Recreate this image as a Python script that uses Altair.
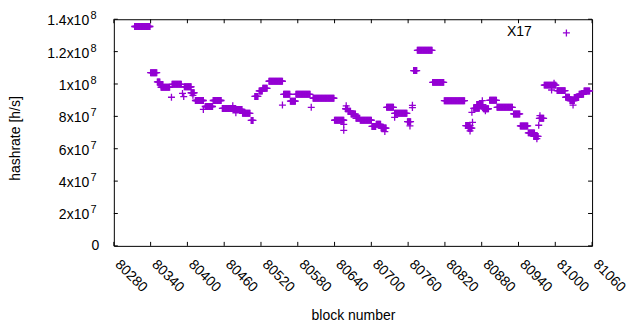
import altair as alt
import pandas as pd

# ---- data (block ranges with a constant hashrate, in millions of h/s) ----
run_start = [80314, 80340, 80351, 80356, 80357, 80375, 80395, 80406, 80413, 80429,
             80442, 80457, 80475, 80490, 80504, 80510, 80517, 80523, 80533, 80557,
             80568, 80577, 80605, 80640, 80658, 80662, 80667, 80675, 80682, 80701,
             80708, 80716, 80725, 80738, 80759, 80769, 80775, 80800, 80819, 80854,
             80858, 80867, 80872, 80883, 80893, 80905, 80932, 80943, 80956, 80965,
             80974, 80982, 81003, 81017, 81024, 81031, 81039, 81047]
run_end = [80339, 80350, 80355, 80360, 80371, 80390, 80406, 80411, 80426, 80441,
           80455, 80474, 80489, 80502, 80507, 80515, 80522, 80530, 80555, 80567,
           80576, 80600, 80639, 80655, 80661, 80666, 80674, 80681, 80700, 80707,
           80715, 80724, 80736, 80758, 80764, 80774, 80799, 80818, 80852, 80861,
           80864, 80876, 80882, 80891, 80904, 80930, 80942, 80955, 80966, 80972,
           80981, 81001, 81016, 81023, 81031, 81038, 81046, 81056]
run_value = [135.5, 107.0, 101.3, 99.5, 98.0, 99.8, 98.3, 94.6, 89.8, 86.1,
             89.8, 84.9, 84.3, 81.9, 77.5, 92.3, 95.7, 97.3, 101.7, 93.6,
             89.4, 93.6, 91.2, 77.6, 84.7, 83.2, 81.4, 78.8, 77.6, 73.8,
             75.1, 72.8, 85.6, 81.9, 76.7, 108.3, 120.8, 101.0, 89.7, 74.3,
             72.7, 85.0, 87.3, 84.7, 89.9, 85.6, 81.5, 74.1, 69.8, 67.6,
             78.8, 99.3, 95.9, 91.8, 89.8, 91.7, 93.7, 95.7]

# single outlying blocks
iso_block = [80374, 80392, 80394, 80409, 80426, 80474, 80479, 80555, 80602, 80655,
             80655, 80659, 80722, 80738, 80763, 80767, 80767, 80861, 80865, 80864,
             80881, 80886, 80970, 80973, 80975, 80994, 80998, 81029]
iso_value = [91.8, 94.2, 92.2, 93.0, 84.3, 86.6, 82.2, 87.0, 85.6, 75.1,
             71.4, 86.5, 70.6, 79.4, 74.1, 86.8, 85.4, 71.0, 76.3, 82.5,
             89.7, 83.5, 66.2, 74.5, 80.4, 96.3, 100.4, 87.0]

xtick_values = [80280, 80340, 80400, 80460, 80520, 80580, 80640, 80700,
                80760, 80820, 80880, 80940, 81000, 81060]
xtick_labels = ["80280", "80340", "80400", "80460", "80520", "80580", "80640", "80700",
                "80760", "80820", "80880", "80940", "81000", "81060"]
ytick_values = [0, 2e7, 4e7, 6e7, 8e7, 1e8, 1.2e8, 1.4e8]
ytick_base = ["0", "2x10", "4x10", "6x10", "8x10", "1x10", "1.2x10", "1.4x10"]
ytick_exp = ["", "7", "7", "7", "7", "8", "8", "8"]
series_name = "X17"

rows = []
for s, e, v in zip(run_start, run_end, run_value):
    for b in range(s, e + 1):
        rows.append({"b": b, "v": v * 1e6})
for b, v in zip(iso_block, iso_value):
    rows.append({"b": b, "v": v * 1e6})
df = pd.DataFrame(rows)

W, H = 479, 227
FONT = "Liberation Sans"
PURPLE = "#9400d3"
PLUS = "M-1,0L1,0M0,-1L0,1"

xs = alt.Scale(domain=[80280, 81060], nice=False, zero=False)
ys = alt.Scale(domain=[0, 1.4e8], nice=False, zero=True)

points = alt.Chart(df).mark_point(
    shape=PLUS, size=49, filled=False, strokeWidth=1.3, color=PURPLE, opacity=1
).encode(
    x=alt.X("b:Q", scale=xs, axis=alt.Axis(
        labels=False, ticks=False, domain=False, grid=False,
        title="block number", titleFont=FONT, titleFontSize=14, titleFontWeight="normal",
        titleColor="black", titleX=W / 2, titleY=74, titleAlign="center",
        titleBaseline="alphabetic")),
    y=alt.Y("v:Q", scale=ys, axis=alt.Axis(
        labels=False, ticks=False, domain=False, grid=False,
        title="hashrate [h/s]", titleFont=FONT, titleFontSize=14, titleFontWeight="normal",
        titleColor="black", titleAngle=-90, titleX=-94, titleY=119,
        titleAlign="center", titleBaseline="alphabetic")),
)

xt_df = pd.DataFrame({"b": xtick_values, "lab": xtick_labels})
yt_df = pd.DataFrame({"v": ytick_values, "base": ytick_base, "exp": ytick_exp})

rule = dict(color="black", strokeWidth=1)
xt_bottom = alt.Chart(xt_df).mark_rule(**rule).encode(x="b:Q", y=alt.value(H), y2=alt.value(H - 4))
xt_top = alt.Chart(xt_df).mark_rule(**rule).encode(x="b:Q", y=alt.value(0), y2=alt.value(4))
yt_left = alt.Chart(yt_df).mark_rule(**rule).encode(y="v:Q", x=alt.value(0), x2=alt.value(4))
yt_right = alt.Chart(yt_df).mark_rule(**rule).encode(y="v:Q", x=alt.value(W), x2=alt.value(W - 4))

xlab = alt.Chart(xt_df).mark_text(
    align="left", baseline="middle", angle=45, font=FONT, fontSize=14, color="black", dx=5
).encode(x="b:Q", y=alt.value(H + 13), text="lab:N")

ylab = alt.Chart(yt_df).transform_filter("datum.v > 0").mark_text(
    align="right", baseline="middle", font=FONT, fontSize=14, color="black", dy=2
).encode(y="v:Q", x=alt.value(-24.7), text="base:N")
ylab0 = alt.Chart(yt_df).transform_filter("datum.v == 0").mark_text(
    align="right", baseline="middle", font=FONT, fontSize=14, color="black"
).encode(y="v:Q", x=alt.value(-14.5), text="base:N")
yexp = alt.Chart(yt_df).transform_filter("datum.v > 0").mark_text(
    align="left", baseline="middle", font=FONT, fontSize=11, color="black", dy=-3
).encode(y="v:Q", x=alt.value(-23.3), text="exp:N")

leg_df = pd.DataFrame({"label": [series_name]})
leg_text = alt.Chart(leg_df).mark_text(
    align="right", baseline="middle", font=FONT, fontSize=14, color="black"
).encode(x=alt.value(418.7), y=alt.value(12.7), text="label:N")
leg_sym = alt.Chart(leg_df).mark_point(
    shape=PLUS, size=49, filled=False, strokeWidth=1.3, color=PURPLE, opacity=1
).encode(x=alt.value(453.3), y=alt.value(13.7))

chart = alt.layer(
    points, xt_bottom, xt_top, yt_left, yt_right, xlab, ylab, ylab0, yexp, leg_text, leg_sym
).properties(
    width=W, height=H,
    autosize=alt.AutoSizeParams(type="none"),
    padding={"left": 106, "top": 11, "right": 40, "bottom": 82},
).configure_view(stroke="black", strokeWidth=1)

chart.save("out.html", embed_options={"renderer": "svg", "actions": False})
